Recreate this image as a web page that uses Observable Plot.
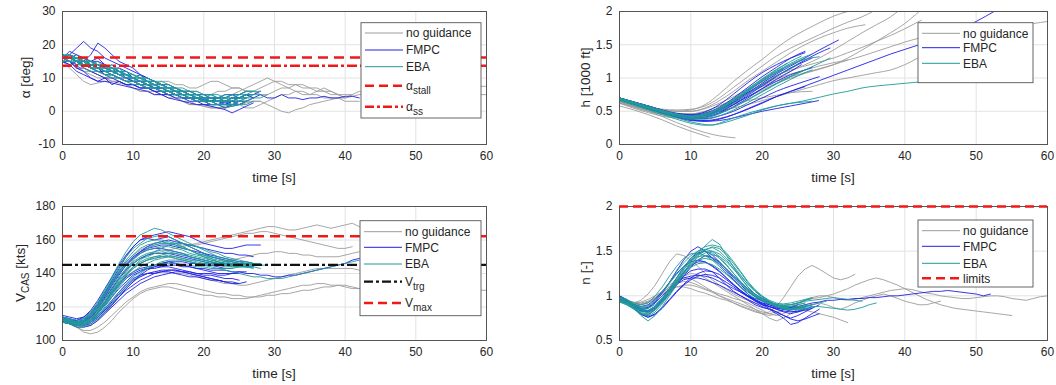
<!DOCTYPE html>
<html><head><meta charset="utf-8">
<script src="https://cdn.jsdelivr.net/npm/d3@7"></script>
<script src="https://cdn.jsdelivr.net/npm/@observablehq/plot@0.6"></script>
<style>
body{margin:0;background:#fff;}
#wrap{position:relative;width:1056px;height:385px;overflow:hidden;background:#fff;font-family:"Liberation Sans",Arial,sans-serif;}
.panel{position:absolute;}
</style></head><body><div id="wrap"></div>
<script>
// ---------- shared ticks / time grid ----------
const timeTicks = [0,10,20,30,40,50,60];
const T = [0,1,2,3,4,5,6,7,8,9,10,11,12,13,14,15,16,17,18,19,20,21,22,23,24,25,26,27,28,29,30,31,32,33,34,35,36,37,38,39,40,41,42,43,44,45,46,47,48,49,50,51,52,53,54,55,56,57,58,59,60];
const alphaTicks = [-10,0,10,20,30];
const hTicks = [0,0.5,1,1.5,2];
const vTicks = [100,120,140,160,180];
const nTicks = [0.5,1,1.5,2];
const legendNames = ["no guidance","FMPC","EBA"];
const alphaStall = 16.2, alphaSS = 13.7, vTrg = 145.2, vMax = 162.3, nLimit = 2.0;

// ---------- alpha [deg] (1 s samples) ----------
const alphaGray = [
 [15,13,11,9,8,8.5,9,9,8.5,8,8,7,7,6,6,5,4,3,2,2,1.5,1,1,1,1.5,2,2.5,3,3,2,1,0,-0.5,0.5,1,2,2.5,3,3.5,4,4,4.5,5,5,5.5,6,6,6,6.5,6,7,7,7,7.5,7,7,7.5,8,7.5,7.5,7.5],
 [16,15,14,12,11,10,10,11,10,9,9,8,8,8,9,9,8,8,7,7,8,9,9,8,7,7,6,6,7,8,9,9,8,8,7,7,6,6,6,5,5,5],
 [16,16,15,13,12,11,10,9,9,8,7,6,6,5,5,4,4,3,3,2,2,1.5,1,1.5,2,2,1,1,2,3,4,5,5,6,5,5,5,4,4,4,3,3,3],
 [16,15,13,12,12,11,10,9,9,8,7,6,6,6,5,5,5,6,6,6,5,5,6,6,7,7,6,6,5,5,6,7,7,8,8,7,7,6,5,5,4],
 [17,16,15,14,13,12,11,10,10,9,8,8,7,7,6,5,4,3,2,2,1.5,1,1,1,2,2,3,3,3],
 [16,15,14,14,13,12,11,10,10,9,9,8,8,7,7,6,6,6,5,5,4,4,4,4,5,6,7,8,9,10,9,8,7,6,6,5,6,7,6,5,4,5,6,5,6,5,5,4,5,6,5,4,5,6,5,4,5,5,5,5,5]
];
const alphaFMPC = [
 [16,17,19,21,19,18,16,15,14,13,12,11,10,9,8,7,6,6,5,4,4,3,3,2,2,3,3,4],
 [16,15,14,15,17,20.5,19,17,15,14,13,11,10,9,8,7,6,5,5,4,4,3,3,2.5,3,3],
 [15,14,12,11,10,9,9,8.5,8,7.5,7,6.5,6,5,5,4,3.5,3,2.5,2,2,1.5,1,0.5,-0.5,0.5,1.5,2.5],
 [16,16,15,14,14,13,12,12,11,11,10,9,9,8,7,7,6,6,5,5,4,4,4,5,5,4,5,4,5,4,4,5,4,4,3.5,4,4,4.5,4,4,4.5,4.5,4],
 [17,16,15,15,14,14,13,12,11,10,9,9,8,7,7,6,5,5,4,4,3,3,3,3,4,4,5],
 [16,15,13,13,12,11,10,10,9,8,8,7,7,6,6,5,5,4,4,3,3,3,2,2,3],
 [16,17,16,16,15,15,14,13,12,11,10,9,8,8,7,6,6,5,5,4,3,3,4,4,5,5,6],
 [15,14,15,14,13,12,12,11,10,10,9,8,8,7,6,5,5,4,4,4,3,2,2,2,3],
 [16,16,17,15,14,13,13,12,11,11,10,9,8,7,7,6,5,5,4,4,3.5,3,3,3,4,4,5,5,6],
 [16,18,17,16,15,16,14,13,13,12,10,11,9,9,8,8,7,6,6,5,5,4,4,3,3,4,4],
 [15,15,13,12,10,9,10,8,9,8,8,7,7,6,5,5,4,4,3,3,2,2,2,3,3,2,3],
 [17,16,15,16,14,13,14,12,12,10,10,9,9,8,8,7,7,6,5,5,4,4,3,3,4,4,5,4],
 [16,17,15,14,13,13,11,11,10,9,9,8,7,7,6,6,5,4,4,3,3,2,2,1,2,2,3]
];
const alphaEBA = [
 [16,16,16,15,14,14,13,12,12,11,10,9,9,8,7,7,6,5,5,4,4,3,3,3,3,4,4],
 [17,17,16,16,15,14,14,13,12,11,10,10,9,8,8,7,6,6,5,5,4,4,3,3,3,3,4,4],
 [16,15,15,14,13,12,11,11,10,9,9,8,8,7,6,6,5,5,4,3,3,2,2,2,2,3,3],
 [16,16,15,14,14,13,13,12,11,11,10,10,9,9,8,7,7,6,6,5,5,5,4,4,5,5,6,6,6],
 [17,16,16,15,15,14,13,13,12,11,10,9,8,8,7,6,6,5,4,4,3,3,2,2,1.5,2,2,3],
 [16,16,15,13,12,12,11,10,10,9,9,8,7,7,6,6,5,4,4,3,3,2,2,1,1.5,2,3],
 [15,15,14,14,13,13,12,12,11,10,10,9,8,8,7,6,6,5,5,4,4,4,4,5,5,5,6,6],
 [16,17,16,15,14,13,12,11,10,9,9,8,7,7,6,6,5,5,4,4,3,3,3,4,4],
 [16,16,15,15,14,14,13,12,12,11,11,10,9,8,8,7,6,6,5,5,4,4,4,3,4,4,5,5,5],
 [17,16,15,14,13,12,11,11,10,9,8,8,7,7,6,5,5,4,4,3,3,3,3,3,4,4,5],
 [16,17,15,16,14,15,13,14,12,12,11,10,10,9,8,8,7,6,6,5,4,5,4,3,4,3,4,5],
 [15,16,16,14,15,13,14,12,13,11,10,11,9,9,8,7,7,6,5,5,4,4,3,4,3,4,4],
 [17,16,17,15,14,14,12,13,11,11,9,10,8,8,7,7,6,6,5,4,4,3,3,3,2,3,3,4,4,5],
 [16,15,16,15,13,13,12,11,12,10,10,9,9,7,7,6,6,5,5,4,3,3,2,3,2,2,3],
 [16,17,16,14,15,14,13,14,12,12,11,10,10,9,9,8,7,7,6,6,5,5,5,4,4,5,5,6]
];

// ---------- h [1000 ft] ([t, h] pairs) ----------
const hGray = [
 [[0,.66],[4,.55],[8,.5],[10,.52],[12,.6],[14,.76],[16,.95],[18,1.12],[20,1.28],[22,1.45],[24,1.6],[26,1.72],[28,1.83],[30,1.93],[32,2.0]],
 [[0,.65],[4,.56],[8,.52],[10,.53],[12,.58],[14,.7],[16,.86],[18,1.02],[20,1.18],[22,1.33],[24,1.45],[26,1.55],[28,1.65],[30,1.75],[32,1.84],[34,1.92],[35.5,2.0]],
 [[0,.64],[4,.5],[8,.42],[10,.42],[12,.46],[14,.55],[16,.66],[18,.78],[20,.9],[22,1.0],[24,1.1],[26,1.2],[28,1.3],[30,1.42],[32,1.55],[34,1.68],[36,1.8],[38,1.92],[39,2.0]],
 [[0,.62],[4,.48],[8,.4],[10,.4],[12,.44],[14,.52],[16,.62],[18,.72],[20,.82],[22,.92],[24,1.0],[26,1.07],[28,1.13],[30,1.2],[32,1.3],[34,1.42],[36,1.55],[38,1.68],[40,1.82],[42,2.0]],
 [[0,.66],[4,.56],[8,.5],[10,.5],[12,.55],[14,.66],[16,.8],[18,.96],[20,1.1],[22,1.24],[24,1.38],[26,1.5],[28,1.6],[30,1.68],[32,1.75],[34.4,1.8]],
 [[0,.58],[2,.52],[4,.45],[6,.37],[8,.28],[10,.2],[12,.13],[12.6,.11]],
 [[0,.62],[2,.57],[4,.5],[6,.42],[8,.33],[10,.25],[12,.18],[14,.13],[16.2,.1]],
 [[0,.64],[4,.52],[8,.45],[10,.45],[12,.48],[14,.54],[16,.6],[18,.66],[20,.7],[22,.74],[24,.78],[27,.8]],
 [[0,.65],[4,.53],[8,.46],[10,.46],[12,.5],[14,.58],[16,.68],[18,.78],[20,.87],[22,.95],[24,1.02],[26,1.08],[28,1.14],[30,1.2],[32,1.27]],
 [[0,.63],[4,.5],[8,.43],[10,.42],[12,.45],[14,.5],[16,.55],[18,.6],[20,.66],[22,.72],[24,.78],[26,.84],[28,.9],[30,.96],[32,1.0],[34,1.04],[36,1.08],[38,1.12],[40,1.2],[42.3,1.33]],
 [[0,.66],[4,.54],[8,.47],[10,.46],[12,.5],[14,.58],[16,.68],[18,.78],[20,.88],[22,.98],[24,1.06],[26,1.12],[28,1.18],[30,1.23],[32,1.27],[34,1.33],[36,1.4],[38,1.47],[40,1.54],[42,1.6],[46,1.68],[50,1.74],[54,1.78],[58,1.82],[60,1.85]],
 [[0,.67],[4,.56],[8,.5],[10,.5],[12,.54],[14,.62],[16,.72],[18,.83],[20,.94],[22,1.04],[24,1.12],[26,1.18],[28,1.24],[30,1.3],[32,1.38],[34,1.46],[36,1.55],[38,1.64],[40,1.74],[42.3,1.87]]
];
const hFMPC = [
 [[0,.7],[4,.58],[8,.46],[10,.44],[12,.47],[14,.56],[16,.7],[18,.86],[20,1.02],[22,1.16],[24,1.3],[26,1.4]],
 [[0,.68],[4,.55],[8,.42],[10,.39],[12,.41],[14,.48],[16,.6],[18,.74],[20,.88],[22,1.02],[24,1.15],[26,1.27],[28,1.38],[29.5,1.45]],
 [[0,.7],[4,.57],[8,.45],[10,.42],[12,.44],[14,.52],[16,.64],[18,.78],[20,.92],[22,1.06],[24,1.18],[26,1.3],[28,1.42],[30.7,1.57]],
 [[0,.69],[4,.55],[8,.42],[10,.37],[12,.35],[14,.36],[16,.4],[18,.45],[20,.5],[22,.54],[24,.58],[26,.62],[27.9,.66]],
 [[0,.7],[4,.57],[8,.44],[10,.38],[12,.36],[14,.39],[16,.45],[18,.53],[20,.62],[22,.72],[24,.8],[26,.88],[28,.96],[30,1.04],[32,1.12],[34,1.2],[36,1.28],[38,1.36],[40,1.43],[42,1.5],[46,1.65],[50,1.85],[52.5,2.0]],
 [[0,.69],[4,.56],[8,.44],[10,.4],[12,.41],[14,.47],[16,.57],[18,.7],[20,.84],[22,.98],[24,1.1],[25.5,1.2]],
 [[0,.7],[4,.58],[8,.47],[10,.45],[12,.49],[14,.6],[16,.76],[18,.93],[20,1.08],[22,1.2],[24,1.3],[26,1.38]],
 [[0,.68],[4,.55],[8,.43],[10,.39],[12,.39],[14,.43],[16,.5],[18,.6],[20,.7],[22,.8],[24,.88],[26,.95],[28,1.02]],
 [[0,.7],[4,.57],[8,.45],[10,.42],[12,.43],[14,.5],[16,.6],[18,.72],[20,.84],[22,.95],[24,1.05],[26,1.12],[27,1.16]],
 [[0,.69],[4,.56],[8,.45],[10,.42],[12,.44],[14,.52],[16,.63],[18,.76],[20,.9],[22,1.03],[24,1.15],[26,1.25],[27,1.3]],
 [[0,.7],[4,.58],[8,.46],[10,.43],[12,.45],[14,.53],[16,.66],[18,.8],[20,.95],[22,1.08],[23,1.14]],
 [[0,.68],[4,.54],[8,.41],[10,.36],[12,.35],[14,.38],[16,.45],[18,.54],[20,.63],[22,.72],[24,.8],[26,.87]]
];
const hEBA = [
 [[0,.69],[4,.56],[8,.45],[10,.42],[12,.44],[14,.52],[16,.65],[18,.8],[20,.95],[22,1.08],[24,1.2],[26,1.3]],
 [[0,.7],[4,.58],[8,.46],[10,.43],[12,.46],[14,.55],[16,.69],[18,.84],[20,.98],[22,1.1],[24,1.2],[26,1.28],[28,1.32]],
 [[0,.67],[4,.53],[8,.4],[10,.34],[12,.3],[13,.29],[14,.32],[16,.4],[18,.47],[20,.53],[22,.58],[24,.62],[26,.66],[28,.71],[30,.76],[32,.8],[34,.85],[36,.88],[38,.9],[40,.92],[42,.94],[44,.96],[47,1.0]],
 [[0,.68],[4,.55],[8,.42],[10,.38],[12,.38],[14,.43],[16,.52],[18,.63],[20,.75],[22,.87],[24,.98],[26,1.08],[27,1.12]],
 [[0,.69],[4,.56],[8,.44],[10,.41],[12,.43],[14,.5],[16,.62],[18,.76],[20,.9],[22,1.03],[24,1.14],[25,1.2]],
 [[0,.66],[4,.52],[8,.38],[10,.32],[12,.29],[14,.31],[16,.37],[18,.44],[20,.52],[22,.58],[24,.62],[26,.64],[27,.65]],
 [[0,.7],[4,.57],[8,.45],[10,.42],[12,.45],[14,.54],[16,.67],[18,.82],[20,.97],[22,1.12],[24,1.25],[25.5,1.33]],
 [[0,.68],[4,.55],[8,.43],[10,.4],[12,.41],[14,.47],[16,.56],[18,.67],[20,.79],[22,.91],[24,1.02],[26,1.12],[28,1.22],[29.5,1.3]],
 [[0,.69],[4,.56],[8,.45],[10,.42],[12,.45],[14,.53],[16,.66],[18,.81],[20,.96],[22,1.1],[24,1.22],[26,1.32],[27,1.36]],
 [[0,.68],[4,.55],[8,.43],[10,.39],[12,.4],[14,.46],[16,.56],[18,.68],[20,.8],[22,.92],[24,1.03],[26,1.12]],
 [[0,.7],[4,.57],[8,.46],[10,.43],[12,.46],[14,.55],[16,.68],[18,.83],[20,.99],[22,1.13],[23.5,1.22]]
];

// ---------- V_CAS [kts] (1 s samples) ----------
const vGray = [
 [112,111,110,111,114,119,125,131,137,142,146,149,151,152,153,154,155,156,157,158,159,160,161,162,163,164,165,166,167,168,168,167,166,166,167,168,169,168,167,168,169,170,168,167,166,165],
 [111,110,108,106,106,108,111,115,119,123,126,129,131,132,133,134,134,133,132,131,130,129,128,128,127,127,126,126,126,127,127,128,128,129,130,130,131,132,132,133,133,132,131,131,130,130,131,131,130,130,129,129,130,130,131,130,130,129,130,130,130],
 [112,110,108,105,104,105,108,112,117,121,125,128,130,131,132,132,131,130,129,128,127,127,126,126,125,125,125,126,127,128,129,130,131,132,133,133,134,134,133,133,132,131,131,130],
 [113,112,111,112,115,120,127,134,141,147,151,154,156,157,158,158,158,157,157,157,158,159,160,161,162,163,164,164,165,165,164,163,162,161,160,159,158,157,156,155,155,156],
 [112,111,110,110,113,117,123,129,135,140,144,146,148,149,150,150,149,148,147,146,145,145,146,147,148,149,150,151,152,152,153,153,152,152,151,151,150,150,150,150,151,152,153],
 [111,110,109,108,109,112,116,121,126,131,135,138,140,141,141,141,140,140,139,138,137,136,135,134,134,133,133,134,135,136,137,138,139,140,141,142,143,143,143,143,143,143,142]
];
const vFMPC = [
 [114,113,112,113,116,121,128,136,143,150,156,160,162,163,164,165,164,163,162,160,158,157,156,155,155,156,157,157,157],
 [113,112,112,114,118,124,131,138,145,151,156,160,161,160,161,162,160,158,156,154,152,150,149,148,147,146,145],
 [111,110,108,108,109,112,116,120,124,128,131,134,136,138,139,140,141,141,140,139,138,137,136,135,135,134,135],
 [112,111,109,109,111,114,118,122,126,130,133,136,138,140,141,142,142,141,140,139,138,137,136,135,134,134],
 [113,112,111,112,114,119,125,131,137,142,146,149,151,152,152,152,151,150,149,148,147,146,146,145,145,145,144,144],
 [112,111,110,110,112,116,122,128,133,137,140,142,143,144,144,145,145,144,144,143,143,142,142,142,141,141,140,140,139,139,138,138,139,139,140,141,142,143,144,145,146,148,149,150],
 [114,112,110,111,114,118,123,129,134,138,141,143,144,145,146,147,146,145,144,143,142,141,140,140,140,141,141],
 [111,110,109,109,110,113,117,121,126,131,135,139,142,144,146,147,147,147,146,146,145,145,144,143,143],
 [115,114,113,114,117,122,129,135,141,146,150,153,155,156,157,157,156,155,154,153,152,151,150,149,148,147,147,146],
 [112,111,110,111,113,117,121,126,131,135,139,141,143,143,144,144,143,142,141,140,139,139,138,137,137,136],
 [113,112,111,112,115,120,126,133,139,145,149,152,154,155,155,154,153,152,150,149,148,147,146,146,145,145],
 [112,111,110,110,112,115,119,124,129,133,137,139,140,140,141,141,140,139,138,138,137,136,136,135],
 [114,113,111,112,116,121,127,134,140,145,149,153,156,158,159,160,159,158,157,156,155,154,153,152,152,151,151,150],
 [111,110,109,109,111,114,118,123,128,132,136,138,140,141,142,142,142,141,141,140,140,140,139,139,140,140]
];
const vEBA = [
 [113,112,111,113,117,123,130,138,146,153,159,163,165,167,166,164,162,160,158,156,154,152,150,149,148,147,146,146,145,145],
 [112,111,110,111,114,119,125,132,138,143,147,150,152,153,154,154,153,152,151,150,149,148,147,146,145,145,144,144],
 [114,113,111,112,115,120,127,134,140,145,149,152,154,155,156,156,155,154,152,151,150,148,147,146,146,145],
 [111,110,109,109,111,115,120,126,132,137,141,144,146,148,149,150,150,149,148,147,146,146,145,145,144,144,144,143],
 [112,111,110,110,112,116,121,127,133,139,144,148,151,153,155,157,158,158,157,156,155,153,152,150,149,148,147,146,146],
 [113,112,110,110,112,116,122,128,134,139,143,146,148,149,150,150,149,148,147,146,145,144,143,142,141,140,139,138,138,137,137,137,138,139,140,141,142,143,144,145,146,147,148],
 [112,111,109,110,112,117,123,130,137,143,148,152,155,157,158,158,157,156,154,152,150,149,147,146,145,145,144],
 [113,112,111,111,113,117,122,128,134,139,143,146,148,150,151,152,152,151,150,149,148,147,146,146,145,145,145,145],
 [111,110,108,108,110,113,117,122,127,132,136,140,143,145,147,148,148,148,147,146,146,145,145,144,144,144],
 [114,113,112,113,116,121,128,135,142,148,153,157,159,160,160,159,158,156,154,152,151,150,149,148,147,146,146,145],
 [112,111,110,112,115,121,127,135,141,147,151,155,157,158,159,158,157,155,154,152,151,149,148,147,146,146,145,145],
 [113,111,110,110,113,118,124,130,136,141,146,149,150,152,152,153,152,151,150,149,148,147,146,145,145,144,144,144,143],
 [111,110,109,110,112,116,122,129,135,140,144,147,149,150,150,151,150,149,148,148,147,146,145,145,145,146,146],
 [114,112,111,112,116,122,129,137,144,150,155,158,161,162,163,162,160,158,156,154,152,150,149,147,147,146,146],
 [112,111,109,109,111,114,119,124,129,134,138,141,144,145,146,146,146,145,145,144,144,143,143,143,143,144,144,144]
];

// ---------- n [-] (1 s samples) ----------
const nGray = [
 [0.95,0.93,0.9,0.9,0.92,0.97,1.03,1.1,1.14,1.16,1.15,1.12,1.08,1.05,1.02,1.0,0.97,0.95,0.92,0.88,0.84,0.8,0.78,0.8,0.85,0.9,0.95,0.98,1.0,1.0,0.98,0.96,0.95,0.96,0.98,1.0,1.02,1.04,1.06,1.07,1.08,1.07,1.05,1.03,1.02,1.0,0.99,0.98,0.97,0.97,0.98,0.99,1.0,1.0,0.99,0.97,0.96,0.95,0.97,0.99,1.0],
 [0.93,0.92,0.9,0.9,0.93,0.98,1.05,1.12,1.18,1.2,1.19,1.15,1.1,1.05,1.0,0.96,0.92,0.88,0.85,0.82,0.8,0.82,0.88,0.98,1.1,1.22,1.3,1.34,1.3,1.25,1.2,1.18,1.2,1.24],
 [0.95,0.93,0.92,0.93,0.96,1.0,1.05,1.08,1.1,1.1,1.08,1.05,1.03,1.0,0.97,0.95,0.92,0.89,0.86,0.83,0.8,0.78,0.8,0.84,0.88,0.92,0.95,0.97,0.98,1.0,1.02,1.05,1.08,1.12,1.15,1.18,1.2,1.18,1.15,1.12,1.08,1.04,1.0,0.96,0.93,0.9,0.88,0.86,0.85,0.84,0.83,0.82,0.81,0.8,0.79,0.78],
 [0.97,0.95,0.93,0.92,0.94,0.98,1.04,1.1,1.17,1.22,1.25,1.24,1.2,1.15,1.1,1.05,1.0,0.95,0.9,0.85,0.8,0.75,0.72,0.75,0.8,0.85,0.88,0.9,0.92,0.9,0.87,0.85,0.88,0.92,0.95,0.98,1.0,1.02,1.0,0.97,0.94,0.92,0.9,0.9,0.92,0.94],
 [0.96,0.94,0.92,0.91,0.93,0.97,1.02,1.07,1.1,1.12,1.12,1.1,1.07,1.04,1.0,0.97,0.94,0.91,0.88,0.85,0.82,0.8,0.82,0.85,0.87,0.86,0.84,0.82,0.8,0.78,0.76,0.73,0.7],
 [0.94,0.92,0.92,0.95,1.02,1.12,1.25,1.38,1.47,1.45,1.4,1.33,1.25,1.18,1.12,1.07,1.02,0.98,0.95,0.92,0.9,0.88,0.87,0.87,0.88,0.9,0.92]
];
const nFMPC = [
 [1.0,0.95,0.88,0.8,0.78,0.85,0.95,1.05,1.15,1.22,1.28,1.3,1.3,1.27,1.2,1.12,1.05,1.0,0.95,0.9,0.87,0.85,0.8,0.75,0.68,0.7,0.75,0.8,0.85],
 [0.98,0.95,0.9,0.86,0.87,0.93,1.03,1.15,1.28,1.4,1.5,1.55,1.5,1.42,1.35,1.27,1.18,1.1,1.02,0.95,0.9,0.88,0.86,0.85,0.87,0.9],
 [0.97,0.93,0.88,0.85,0.86,0.92,1.0,1.08,1.15,1.2,1.22,1.23,1.22,1.2,1.16,1.12,1.08,1.04,1.0,0.97,0.95,0.93,0.9,0.88,0.87,0.88,0.9,0.92,0.93,0.95,0.95,0.96,0.96,0.97,0.97,0.98,0.98,0.99,1.0,1.0,1.01,1.02,1.03,1.04,1.05,1.05,1.06,1.05,1.04,1.03,1.02,1.0,1.02],
 [1.0,0.96,0.9,0.84,0.82,0.86,0.93,1.02,1.12,1.22,1.32,1.4,1.45,1.43,1.38,1.3,1.22,1.15,1.08,1.02,0.97,0.93,0.9,0.88,0.86,0.87,0.88],
 [0.95,0.92,0.86,0.8,0.76,0.8,0.87,0.96,1.05,1.13,1.2,1.25,1.28,1.27,1.24,1.18,1.12,1.06,1.0,0.96,0.92,0.88,0.85,0.82,0.8,0.82,0.85,0.88],
 [0.98,0.94,0.9,0.88,0.9,0.96,1.05,1.15,1.25,1.33,1.38,1.4,1.38,1.33,1.27,1.2,1.12,1.05,0.99,0.95,0.92,0.9,0.88,0.86,0.85,0.87],
 [0.96,0.93,0.88,0.83,0.83,0.88,0.96,1.05,1.13,1.18,1.2,1.2,1.18,1.15,1.12,1.08,1.04,1.0,0.96,0.92,0.88,0.85,0.82,0.78,0.75,0.78,0.82,0.86,0.9],
 [0.97,0.93,0.88,0.83,0.82,0.87,0.95,1.05,1.16,1.26,1.34,1.38,1.38,1.34,1.28,1.2,1.13,1.06,1.0,0.95,0.91,0.88,0.85,0.83,0.82,0.83,0.86],
 [0.99,0.95,0.9,0.85,0.83,0.88,0.97,1.08,1.2,1.32,1.42,1.48,1.5,1.46,1.38,1.29,1.2,1.12,1.05,0.99,0.94,0.9,0.87,0.85,0.83,0.82,0.84,0.86],
 [0.96,0.92,0.86,0.79,0.76,0.79,0.86,0.95,1.04,1.12,1.18,1.22,1.24,1.23,1.2,1.15,1.1,1.04,0.99,0.94,0.9,0.86,0.82,0.78,0.74,0.72,0.74,0.77,0.8]
];
const nEBA = [
 [0.95,0.92,0.86,0.78,0.72,0.78,0.88,1.0,1.12,1.25,1.38,1.48,1.56,1.63,1.58,1.45,1.32,1.2,1.1,1.02,0.96,0.92,0.88,0.85,0.84,0.86,0.88,0.9],
 [0.97,0.94,0.9,0.87,0.88,0.94,1.04,1.15,1.27,1.37,1.45,1.5,1.52,1.5,1.44,1.35,1.25,1.15,1.07,1.0,0.95,0.92,0.9,0.88,0.88,0.9,0.92],
 [0.93,0.9,0.86,0.82,0.82,0.87,0.95,1.05,1.16,1.27,1.36,1.43,1.48,1.5,1.47,1.4,1.3,1.2,1.1,1.02,0.96,0.92,0.88,0.86,0.85,0.86,0.88,0.9,0.92,0.94],
 [0.96,0.93,0.89,0.85,0.84,0.88,0.96,1.06,1.17,1.27,1.35,1.4,1.42,1.4,1.36,1.3,1.22,1.14,1.06,1.0,0.95,0.91,0.88,0.86,0.85,0.86,0.87,0.88,0.88,0.87,0.86,0.85,0.84,0.85,0.87,0.9,0.92],
 [0.98,0.95,0.9,0.86,0.86,0.9,0.98,1.08,1.2,1.32,1.42,1.5,1.55,1.57,1.55,1.48,1.38,1.27,1.16,1.07,1.0,0.95,0.92,0.9,0.9,0.92],
 [0.94,0.9,0.85,0.8,0.79,0.84,0.93,1.04,1.15,1.25,1.32,1.36,1.37,1.35,1.3,1.24,1.17,1.1,1.04,0.99,0.95,0.92,0.9,0.89,0.9,0.92,0.95,0.97],
 [0.96,0.93,0.88,0.83,0.81,0.85,0.93,1.03,1.14,1.24,1.33,1.4,1.45,1.46,1.44,1.38,1.3,1.22,1.13,1.05,0.99,0.94,0.9,0.87,0.85,0.84,0.85,0.87],
 [0.99,0.96,0.92,0.9,0.92,1.0,1.1,1.22,1.33,1.42,1.47,1.48,1.45,1.4,1.33,1.25,1.17,1.09,1.02,0.97,0.94,0.92,0.91,0.91,0.92,0.94,0.96,0.98],
 [0.96,0.92,0.88,0.84,0.83,0.88,0.97,1.08,1.19,1.3,1.4,1.47,1.52,1.54,1.5,1.42,1.33,1.23,1.13,1.05,0.98,0.93,0.9,0.88,0.86,0.87,0.89,0.9],
 [0.95,0.92,0.87,0.81,0.8,0.85,0.94,1.05,1.17,1.29,1.39,1.46,1.5,1.48,1.42,1.34,1.25,1.16,1.08,1.01,0.96,0.92,0.89,0.87,0.86,0.88,0.9],
 [0.98,0.95,0.91,0.88,0.89,0.95,1.04,1.14,1.24,1.33,1.4,1.44,1.45,1.42,1.37,1.3,1.22,1.14,1.06,1.0,0.95,0.92,0.9,0.89,0.9,0.92,0.94,0.95,0.96,0.97,0.98,0.97,0.96,0.95,0.94],
 [0.94,0.91,0.86,0.8,0.77,0.82,0.91,1.02,1.14,1.26,1.37,1.45,1.51,1.55,1.53,1.46,1.36,1.26,1.15,1.06,0.99,0.94,0.9,0.87,0.85,0.85,0.86]
];

// ---------- styling ----------
const C_GRAY = "#9c9c9c", C_BLUE = "#2020e8", C_TEAL = "#1f9a9a", C_RED = "#f21818", C_BLACK = "#111111";
const FONT = "'Liberation Sans', Arial, Helvetica, sans-serif";
const TXT = "#262626";

function rowsFromGrid(series, tag){ return series.flatMap((vals,k)=>vals.map((v,i)=>({t:T[i], v, id:tag+k}))); }
function rowsFromPairs(series, tag){ return series.flatMap((pts,k)=>pts.map(([t,v])=>({t, v, id:tag+k}))); }

function makePanel(cfg){
  const marks = [
    Plot.gridX(timeTicks,{stroke:"#e2e2e2", strokeOpacity:1}),
    Plot.gridY(cfg.yTicks,{stroke:"#e2e2e2", strokeOpacity:1})
  ];
  for (const g of cfg.groups)
    marks.push(Plot.line(g.rows,{x:"t", y:"v", z:"id", stroke:g.color, strokeWidth:0.9, curve:cfg.curve||"linear", clip:true}));
  marks.push(Plot.frame({stroke:"#555", strokeWidth:1}));
  for (const r of cfg.rules)
    marks.push(Plot.ruleY([r.y],{stroke:r.color, strokeWidth:r.w, strokeDasharray:r.dash}));
  marks.push(Plot.axisX(timeTicks,{tickSize:0, tickPadding:7, label:null, tickFormat:d=>String(d)}));
  marks.push(Plot.axisY(cfg.yTicks,{tickSize:0, tickPadding:7, label:null, tickFormat:d=>String(d)}));
  const svg = Plot.plot({
    width:cfg.width, height:cfg.height,
    marginLeft:cfg.ml, marginRight:cfg.mr, marginTop:cfg.mt, marginBottom:cfg.mb,
    x:{domain:[0,60]}, y:{domain:cfg.yDomain},
    style:{fontSize:"12px", fontFamily:FONT, color:TXT, background:"transparent", overflow:"visible"},
    marks
  });
  const s = d3.select(svg);
  const fx0 = cfg.ml, fx1 = cfg.width-cfg.mr, fy0 = cfg.mt, fy1 = cfg.height-cfg.mb;
  s.append("text").attr("x",(fx0+fx1)/2).attr("y",fy1+38).attr("text-anchor","middle")
    .attr("font-size",13.5).attr("font-family",FONT).attr("fill",TXT).text("time [s]");
  const yl = s.append("text").attr("transform",`translate(${cfg.ylx},${(fy0+fy1)/2}) rotate(-90)`)
    .attr("text-anchor","middle").attr("font-size",13.5).attr("font-family",FONT).attr("fill",TXT);
  for (const part of cfg.ylabel){
    const ts = yl.append("tspan").text(part.t);
    if (part.sub) ts.attr("dy",4).attr("font-size",10);
    if (part.after) ts.attr("dy",-4);
  }
  const L = cfg.legend, g = s.append("g").attr("text-anchor","start");
  g.append("rect").attr("x",L.x).attr("y",L.y).attr("width",L.w).attr("height",L.h)
    .attr("fill","#fff").attr("stroke","#555").attr("stroke-width",0.9);
  for (const it of L.items){
    const yy = L.y + it.dy;
    g.append("line").attr("x1",L.x+4).attr("x2",L.x+42).attr("y1",yy).attr("y2",yy)
      .attr("stroke",it.color).attr("stroke-width",it.w).attr("stroke-dasharray",it.dash||null);
    const tx = g.append("text").attr("x",L.x+45).attr("y",yy).attr("dy","0.35em").attr("text-anchor","start")
      .attr("font-size",12).attr("font-family",FONT).attr("fill",TXT);
    tx.append("tspan").text(it.text);
    if (it.sub) tx.append("tspan").attr("dy",4).attr("font-size",10).text(it.sub);
  }
  const div = document.createElement("div");
  div.className = "panel";
  div.style.left = cfg.left+"px"; div.style.top = cfg.top+"px";
  div.appendChild(svg);
  document.getElementById("wrap").appendChild(div);
}

// top-left: alpha
makePanel({
  left:0, top:0, width:530, height:200, ml:62, mr:44, mt:11, mb:56,
  yDomain:[-10,30], yTicks:alphaTicks, ylx:30,
  ylabel:[{t:"α [deg]"}],
  groups:[
    {rows:rowsFromGrid(alphaGray,"g"), color:C_GRAY},
    {rows:rowsFromGrid(alphaFMPC,"b"), color:C_BLUE},
    {rows:rowsFromGrid(alphaEBA,"e"), color:C_TEAL}
  ],
  rules:[
    {y:alphaStall, color:C_RED, w:2.5, dash:"10,6"},
    {y:alphaSS, color:C_RED, w:2.5, dash:"10,3,3,3"}
  ],
  legend:{x:361, y:22.7, w:120, h:95.3, items:[
    {dy:10.3, text:legendNames[0], color:C_GRAY, w:1},
    {dy:27.3, text:legendNames[1], color:C_BLUE, w:1},
    {dy:44, text:legendNames[2], color:C_TEAL, w:1},
    {dy:63, text:"α", sub:"stall", color:C_RED, w:2.5, dash:"9,5"},
    {dy:84, text:"α", sub:"ss", color:C_RED, w:2.5, dash:"9,3,3,3"}
  ]}
});

// top-right: h
makePanel({
  left:540, top:0, width:516, height:200, ml:79, mr:9, mt:11, mb:56,
  yDomain:[0,2], yTicks:hTicks, ylx:50, curve:"monotone-x",
  ylabel:[{t:"h [1000 ft]"}],
  groups:[
    {rows:rowsFromPairs(hGray,"g"), color:C_GRAY},
    {rows:rowsFromPairs(hFMPC,"b"), color:C_BLUE},
    {rows:rowsFromPairs(hEBA,"e"), color:C_TEAL}
  ],
  rules:[],
  legend:{x:378, y:22.7, w:115, h:60, items:[
    {dy:10.6, text:legendNames[0], color:C_GRAY, w:1},
    {dy:25, text:legendNames[1], color:C_BLUE, w:1},
    {dy:40.6, text:legendNames[2], color:C_TEAL, w:1}
  ]}
});

// bottom-left: V_CAS
makePanel({
  left:0, top:190, width:530, height:195, ml:62, mr:44, mt:16, mb:45,
  yDomain:[100,180], yTicks:vTicks, ylx:25,
  ylabel:[{t:"V"},{t:"CAS",sub:true},{t:" [kts]",after:true}],
  groups:[
    {rows:rowsFromGrid(vGray,"g"), color:C_GRAY},
    {rows:rowsFromGrid(vFMPC,"b"), color:C_BLUE},
    {rows:rowsFromGrid(vEBA,"e"), color:C_TEAL}
  ],
  rules:[
    {y:vMax, color:C_RED, w:2.5, dash:"10,6"},
    {y:vTrg, color:C_BLACK, w:2.2, dash:"10,3,3,3"}
  ],
  legend:{x:360, y:30.7, w:121, h:95, items:[
    {dy:11, text:legendNames[0], color:C_GRAY, w:1},
    {dy:26.6, text:legendNames[1], color:C_BLUE, w:1},
    {dy:43.3, text:legendNames[2], color:C_TEAL, w:1},
    {dy:61, text:"V", sub:"trg", color:C_BLACK, w:2.2, dash:"9,3,3,3"},
    {dy:82.3, text:"V", sub:"max", color:C_RED, w:2.5, dash:"9,5"}
  ]}
});

// bottom-right: n
makePanel({
  left:540, top:190, width:516, height:195, ml:79, mr:9, mt:16, mb:45,
  yDomain:[0.5,2], yTicks:nTicks, ylx:50,
  ylabel:[{t:"n [-]"}],
  groups:[
    {rows:rowsFromGrid(nGray,"g"), color:C_GRAY},
    {rows:rowsFromGrid(nFMPC,"b"), color:C_BLUE},
    {rows:rowsFromGrid(nEBA,"e"), color:C_TEAL}
  ],
  rules:[
    {y:nLimit, color:C_RED, w:2.5, dash:"9,5"}
  ],
  legend:{x:378, y:30, w:115, h:67, items:[
    {dy:10.7, text:legendNames[0], color:C_GRAY, w:1},
    {dy:26.3, text:legendNames[1], color:C_BLUE, w:1},
    {dy:43.3, text:legendNames[2], color:C_TEAL, w:1},
    {dy:58.3, text:"limits", color:C_RED, w:2.5, dash:"9,5"}
  ]}
});
</script></body></html>
